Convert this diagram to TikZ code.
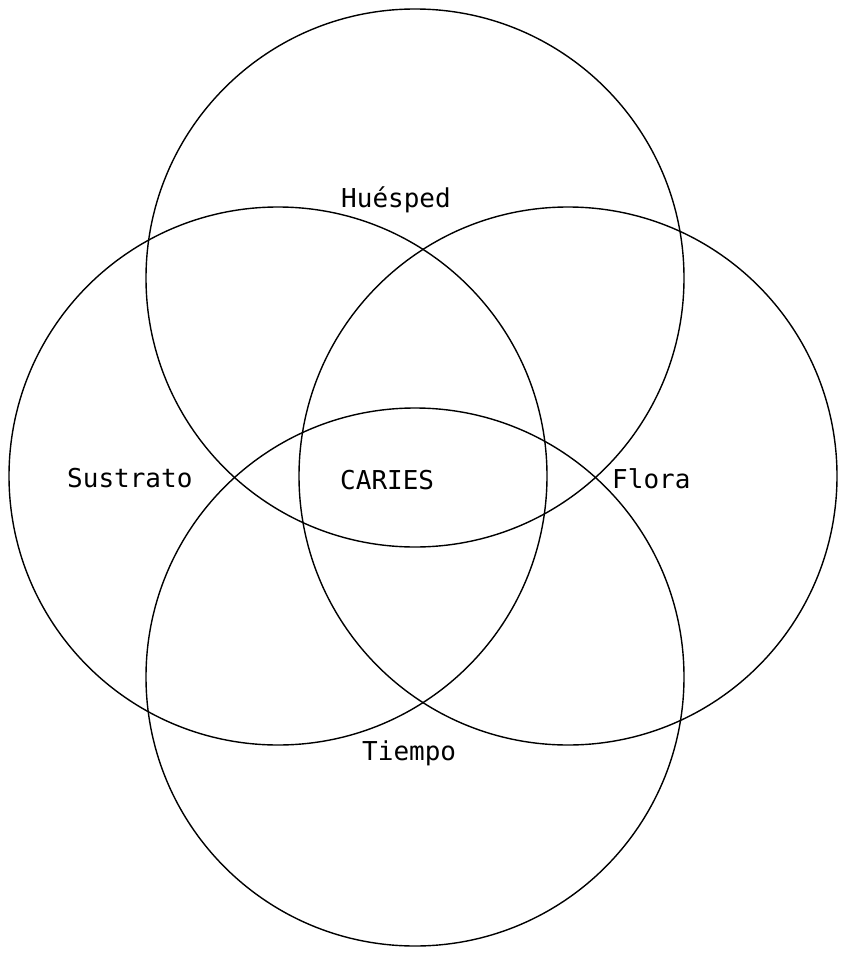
\documentclass[tikz,border=0pt]{standalone}
\usepackage{fontspec}
\setmonofont{DejaVu Sans Mono}
\begin{document}
\begin{tikzpicture}[x=1pt,y=-1pt,
  ring/.style={draw=black,line width=1.4pt},
  lbl/.style={font=\ttfamily\fontsize{26}{30}\selectfont,inner sep=0pt,anchor=base west}]
\useasboundingbox (0,0) rectangle (841,955);
\draw[ring] (415,278) circle[radius=269];
\draw[ring] (278,476) circle[radius=269];
\draw[ring] (568,476) circle[radius=269];
\draw[ring] (415,677) circle[radius=269];
\node[lbl] (hues) at (341,207) {Huésped};
\node[lbl] (sust) at (67,487) {Sustrato};
\node[lbl] (car) at (340,489) {CARIES};
\node[lbl] (flo) at (612,488) {Flora};
\node[lbl] (tie) at (362,760) {Tiempo};
\end{tikzpicture}
\end{document}
